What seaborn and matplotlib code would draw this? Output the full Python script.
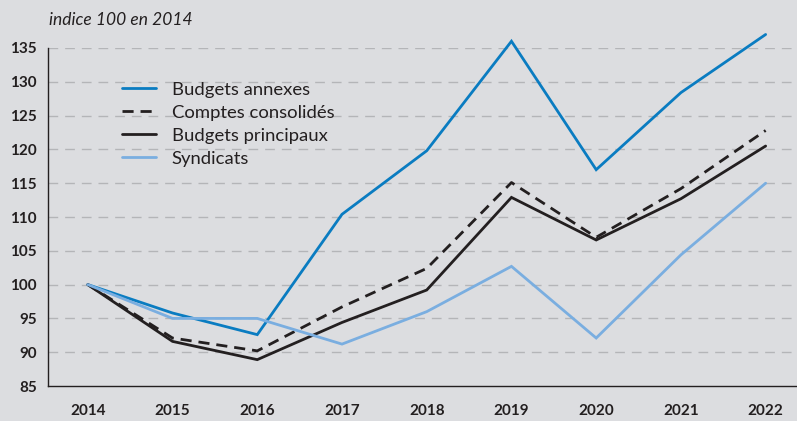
import numpy as np
import pandas as pd
import matplotlib.pyplot as plt
import seaborn as sns

sns.set_theme(style="white")
plt.rcParams['font.family'] = ['Lato', 'DejaVu Sans']

years = [2014, 2015, 2016, 2017, 2018, 2019, 2020, 2021, 2022]
budgets_annexes = [100, 95.8, 92.6, 110.4, 119.8, 136.0, 117.0, 128.4, 137.0]
comptes_consolides = [100, 92.1, 90.2, 96.7, 102.4, 115.1, 107.0, 114.2, 122.8]
budgets_principaux = [100, 91.6, 88.9, 94.4, 99.2, 112.9, 106.6, 112.7, 120.5]
syndicats = [100, 95.0, 95.0, 91.2, 96.0, 102.7, 92.1, 104.4, 115.0]

bg = "#dcdde0"
fig = plt.figure(figsize=(7.97, 4.21), dpi=100, facecolor=bg)
ax = fig.add_axes([0.0602, 0.0831, 0.9398, 0.8029], facecolor=bg)

def draw(values, color, label, dashed=False):
    sns.lineplot(x=years, y=values, color=color, linewidth=2.0, label=label, ax=ax,
                 errorbar=None, estimator=None)
    line = ax.lines[-1]
    line.set_clip_on(False)
    line.set_solid_joinstyle("miter")
    if dashed:
        line.set_dashes([4, 2.5])

draw(budgets_annexes, "#0a7cc1", "Budgets annexes")
draw(comptes_consolides, "#231f20", "Comptes consolidés", dashed=True)
draw(budgets_principaux, "#231f20", "Budgets principaux")
draw(syndicats, "#7aaee0", "Syndicats")

ax.set_xlim(2013.53, 2022.37)
ax.set_ylim(85, 135)
ax.set_xticks(years)
ax.set_yticks(range(85, 136, 5))
ax.set_xticklabels([str(y) for y in years], fontweight="bold", fontsize=11, color="#231f20")
ax.set_yticklabels([str(v) for v in range(85, 136, 5)], fontweight="bold", fontsize=11, color="#231f20")
ax.tick_params(axis="x", length=7, width=1, color="#231f20", direction="out", pad=6)
ax.tick_params(axis="y", length=0, pad=8)

for v in range(90, 136, 5):
    ax.axhline(v, color="#b4b5b8", linewidth=1.0, dashes=(7, 5), zorder=0)

for s in ["top", "right"]:
    ax.spines[s].set_visible(False)
for s in ["left", "bottom"]:
    ax.spines[s].set_color("#231f20")
    ax.spines[s].set_linewidth(1.0)

leg = ax.legend(loc="upper left", bbox_to_anchor=(0.0988, 0.90), frameon=False, fontsize=13.3,
                handlelength=1.85, handletextpad=0.85, labelspacing=0.38, borderpad=0,
                borderaxespad=0)
for t in leg.get_texts():
    t.set_color("#231f20")

fig.text(0.061, 0.952, "indice 100 en 2014", fontstyle="italic", fontsize=12.5, color="#231f20",
         va="center", ha="left")

ax.set_xlabel("")
ax.set_ylabel("")
fig.savefig("out.png", dpi=100, facecolor=bg)
